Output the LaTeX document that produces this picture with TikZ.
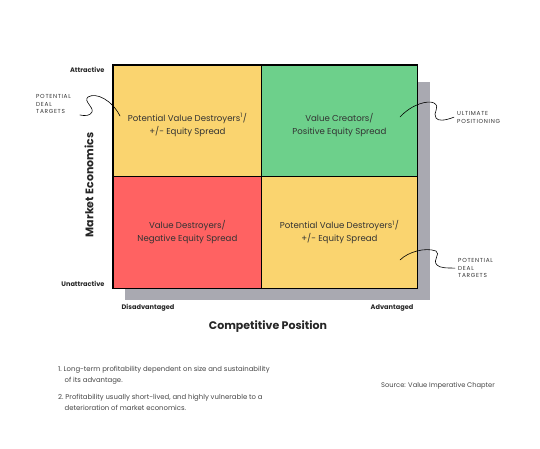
\documentclass[tikz,border=0pt]{standalone}
\usepackage{fontspec}
\setmainfont{Poppins}
\definecolor{qyellow}{HTML}{FAD46F}
\definecolor{qgreen}{HTML}{6DD08B}
\definecolor{qred}{HTML}{FF6262}
\definecolor{qshadow}{HTML}{A9A9B1}
\definecolor{qtext}{HTML}{333333}
\definecolor{fntext}{HTML}{444444}
\tikzset{
  quad/.style={draw=black, line width=0.8pt, anchor=north west, inner sep=0pt},
  qlabel/.style={align=center, text=qtext, font=\fontsize{8.6}{13}\selectfont},
  axlab/.style={font=\fontsize{6.6}{8}\selectfont\bfseries, text=black!85},
  axtitle/.style={font=\fontsize{11}{13}\selectfont\bfseries, text=black!85},
  hand/.style={align=left, font=\fontsize{5.8}{7.8}\selectfont\addfontfeatures{LetterSpace=12}, text=black!80, inner sep=0pt},
  fnote/.style={align=left, font=\fontsize{6.9}{11}\selectfont, text=fntext, inner sep=0pt, anchor=north west},
  squig/.style={line width=0.6pt, line cap=round}
}
\begin{document}
\begin{tikzpicture}[x=1pt,y=-1pt]
\useasboundingbox (0,0) rectangle (540,448);
% shadow behind the matrix
\fill[qshadow] (125,82) rectangle (430,300);
% quadrants
\node[quad, fill=qyellow, minimum width=148pt, minimum height=111pt] (tl) at (113,65) {};
\node[quad, fill=qgreen, minimum width=156pt, minimum height=111pt] (tr) at (261,65) {};
\node[quad, fill=qred, minimum width=148pt, minimum height=112pt] (bl) at (113,176) {};
\node[quad, fill=qyellow, minimum width=156pt, minimum height=112pt] (br) at (261,176) {};
\draw[line width=1.3pt] (tl.north west) rectangle (br.south east);
\node[qlabel] (tltext) at ([yshift=-4pt]tl.center) {Potential Value Destroyers\textsuperscript{1}/\\+/- Equity Spread};
\node[qlabel] (trtext) at ([yshift=-4pt]tr.center) {Value Creators/\\Positive Equity Spread};
\node[qlabel] (bltext) at (bl.center) {Value Destroyers/\\Negative Equity Spread};
\node[qlabel] (brtext) at (br.center) {Potential Value Destroyers\textsuperscript{1}/\\+/- Equity Spread};
% axes
\node[axlab, anchor=east] (attr) at (108,70) {Attractive};
\node[axlab, anchor=east] (unattr) at (108,284) {Unattractive};
\node[axlab] (disadv) at (148,308) {Disadvantaged};
\node[axlab] (adv) at (392,308) {Advantaged};
\node[axtitle, rotate=90] (market) at (89,185) {Market Economics};
\node[axtitle] (compet) at (268,327) {Competitive Position};
% hand notes
\node[hand, anchor=north west] (dealleft) at (36,94) {POTENTIAL\\DEAL\\TARGETS};
\node[hand, anchor=north west] (ultimate) at (457,111) {ULTIMATE\\POSITIONING};
\node[hand, anchor=north west] (dealright) at (458,258) {POTENTIAL\\DEAL\\TARGETS};
\coordinate (tlpin) at (120,116);
\coordinate (trpin) at (400,117);
\coordinate (brpin) at (400,260);
\draw[squig] (tlpin) .. controls (112,100) and (96,92) .. (88,97)
  .. controls (83,101) and (94,107) .. (92,112)
  .. controls (90,116) and (85,116) .. (80,115);
\draw[squig] (trpin) .. controls (412,104) and (428,100) .. (434,103)
  .. controls (441,107) and (432,113) .. (436,118)
  .. controls (438,121) and (444,121) .. ([xshift=-3pt]ultimate.west);
\draw[squig] (brpin) .. controls (408,252) and (425,247) .. (436,251)
  .. controls (441,254) and (432,260) .. (437,265)
  .. controls (440,268) and (446,268) .. ([xshift=-3pt]dealright.west);
% footnotes
\node[fnote] (fn1) at (58,366) {1.~Long-term profitability dependent on size and sustainability\\\hspace*{6.5pt}of its advantage.};
\node[fnote] (fn2) at (58,394) {2.~Profitability usually short-lived, and highly vulnerable to a\\\hspace*{6.5pt}deterioration of market economics.};
\node[font=\fontsize{6.7}{8}\selectfont, text=fntext] (source) at (438,386) {Source: Value Imperative Chapter};
\end{tikzpicture}
\end{document}
